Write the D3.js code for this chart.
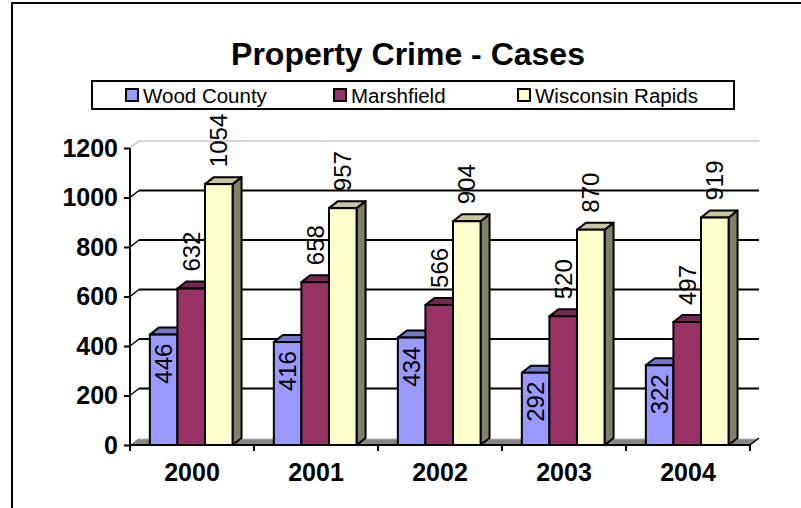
<!DOCTYPE html>
<html>
<head>
<meta charset="utf-8">
<script src="https://cdn.jsdelivr.net/npm/d3@7"></script>
<style>
  html, body { margin: 0; padding: 0; background: #fff; }
  svg { display: block; font-family: "Liberation Sans", Arial, sans-serif; }
</style>
</head>
<body>
<svg id="chart" width="801" height="508"></svg>
<script>
const years = ['2000', '2001', '2002', '2003', '2004']
const seriesNames = ['Wood County', 'Marshfield', 'Wisconsin Rapids']
const woodCounty = [446, 416, 434, 292, 322]
const marshfield = [632, 658, 566, 520, 497]
const wisconsinRapids = [1054, 957, 904, 870, 919]
const yTicks = [0, 200, 400, 600, 800, 1000, 1200]

const colors = ['#9999ff', '#993366', '#ffffcc']
const seriesValues = [woodCounty, marshfield, wisconsinRapids]

const width = 801
const height = 508
const margin = { top: 148, right: 51, bottom: 63, left: 130 }
// 3d depth offset of the back wall
const dx = 9
const dy = -7

const svg = d3.select('#chart')

svg.append('rect').attr('width', width).attr('height', height).attr('fill', '#fff')

// outer frame (only left and top edges fall inside the picture)
svg.append('path')
  .attr('d', `M12,${height} L12,3 L${width},3`)
  .attr('fill', 'none')
  .attr('stroke', '#000')
  .attr('stroke-width', 2)

// Title
svg.append('text')
  .attr('x', 408)
  .attr('y', 65)
  .attr('text-anchor', 'middle')
  .attr('font-weight', 'bold')
  .attr('font-size', 32)
  .text('Property Crime - Cases')

// Legend
const legend = svg.append('g')
legend.append('rect')
  .attr('x', 92).attr('y', 81)
  .attr('width', 642).attr('height', 28)
  .attr('fill', '#fff').attr('stroke', '#000').attr('stroke-width', 2)

const legendPos = [126, 334, 518]
seriesNames.forEach((name, i) => {
  const g = legend.append('g').attr('transform', `translate(${legendPos[i]}, 89)`)
  g.append('rect')
    .attr('width', 12).attr('height', 12)
    .attr('fill', colors[i]).attr('stroke', '#000').attr('stroke-width', 2)
  g.append('text')
    .attr('x', 17).attr('y', 13.5)
    .attr('font-size', 20.5)
    .text(name)
})

// Scales
const x = d3.scaleBand()
  .domain(years)
  .range([margin.left, width - margin.right])

const bw = x.bandwidth()
const xInner = d3.scaleBand()
  .domain(seriesNames)
  .range([bw * 0.16, bw * 0.827])

const y = d3.scaleLinear()
  .domain([0, 1200])
  .range([height - margin.bottom, margin.top])

const x0 = margin.left
const x1 = width - margin.right
const y0 = y(0)

// back wall gridlines and side wall diagonals
yTicks.filter(t => t > 0 && t < 1200).forEach(t => {
  svg.append('line')
    .attr('x1', x0 + dx).attr('x2', x1 + dx)
    .attr('y1', y(t) + dy).attr('y2', y(t) + dy)
    .attr('stroke', '#000').attr('stroke-width', 2)
  svg.append('line')
    .attr('x1', x0).attr('x2', x0 + dx)
    .attr('y1', y(t)).attr('y2', y(t) + dy)
    .attr('stroke', '#000').attr('stroke-width', 1.5)
})

// top edge of the walls
svg.append('path')
  .attr('d', `M${x0},${y(1200)} L${x0 + dx},${y(1200) + dy} L${x1 + dx},${y(1200) + dy}`)
  .attr('fill', 'none').attr('stroke', '#c8c8c8').attr('stroke-width', 1.5)

// floor
svg.append('path')
  .attr('d', `M${x0},${y0} L${x1},${y0} L${x1 + dx},${y0 + dy} L${x0 + dx},${y0 + dy} Z`)
  .attr('fill', '#858585')
svg.append('line')
  .attr('x1', x0 + dx).attr('x2', x1 + dx)
  .attr('y1', y0 + dy + 0.5).attr('y2', y0 + dy + 0.5)
  .attr('stroke', '#e0e0e0').attr('stroke-width', 1.5)

// bars
const shade = (c, k) => {
  const rgb = d3.rgb(c)
  return d3.rgb(rgb.r * k, rgb.g * k, rgb.b * k).formatHex()
}

years.forEach((yr, j) => {
  seriesNames.forEach((name, i) => {
    const v = seriesValues[i][j]
    const left = x(yr) + xInner(name)
    const right = left + xInner.bandwidth()
    const top = y(v)
    const g = svg.append('g')
    // side face
    g.append('path')
      .attr('d', `M${right},${y0} L${right},${top} L${right + dx},${top + dy} L${right + dx},${y0 + dy} Z`)
      .attr('fill', shade(colors[i], 0.5))
      .attr('stroke', '#000').attr('stroke-width', 2).attr('stroke-linejoin', 'round')
    // top face
    g.append('path')
      .attr('d', `M${left},${top} L${right},${top} L${right + dx},${top + dy} L${left + dx},${top + dy} Z`)
      .attr('fill', shade(colors[i], 0.78))
      .attr('stroke', '#000').attr('stroke-width', 2).attr('stroke-linejoin', 'round')
    // front face
    g.append('rect')
      .attr('x', left).attr('y', top)
      .attr('width', right - left).attr('height', y0 - top)
      .attr('fill', colors[i])
      .attr('stroke', '#000').attr('stroke-width', 2)
  })
})

// value labels (rotated)
years.forEach((yr, j) => {
  seriesNames.forEach((name, i) => {
    const v = seriesValues[i][j]
    const cx = x(yr) + xInner(name) + xInner.bandwidth() / 2
    const inside = i === 0
    const ly = inside ? y(v) + 9 : y(v) - 17
    svg.append('text')
      .attr('transform', `translate(${cx}, ${ly}) rotate(-90)`)
      .attr('text-anchor', inside ? 'end' : 'start')
      .attr('dy', '0.36em')
      .attr('font-size', 24)
      .text(v)
  })
})

// y axis
const yAxis = svg.append('g')
  .attr('transform', `translate(${x0}, 0)`)
  .call(d3.axisLeft(y).tickValues(yTicks).tickFormat(d3.format('d')).tickSize(6).tickPadding(6))
yAxis.select('.domain').attr('stroke', '#000').attr('stroke-width', 2)
  .attr('d', `M0,${y(1200)}V${y0}`)
yAxis.selectAll('.tick line').attr('stroke', '#000').attr('stroke-width', 2)
yAxis.selectAll('.tick text')
  .attr('font-size', 25)
  .attr('font-weight', 'bold')
  .attr('font-family', '"Liberation Sans", Arial, sans-serif')
  .attr('fill', '#000')

// x axis
const xAxis = svg.append('g')
  .attr('transform', `translate(0, ${y0})`)
  .call(d3.axisBottom(x).tickSize(0).tickPadding(0))
xAxis.select('.domain').attr('stroke', '#000').attr('stroke-width', 2)
  .attr('d', `M${x0},0H${x1}`)
xAxis.selectAll('.tick text')
  .attr('y', 36)
  .attr('dy', 0)
  .attr('font-size', 25)
  .attr('font-weight', 'bold')
  .attr('font-family', '"Liberation Sans", Arial, sans-serif')
  .attr('fill', '#000')
// category boundary ticks
xAxis.selectAll('.boundary')
  .data(years.map(d => x(d)).concat([x1]))
  .join('line')
  .attr('x1', d => d).attr('x2', d => d)
  .attr('y1', 0).attr('y2', 6)
  .attr('stroke', '#000').attr('stroke-width', 2)
// floor right edge
svg.append('line')
  .attr('x1', x1).attr('y1', y0)
  .attr('x2', x1 + dx).attr('y2', y0 + dy)
  .attr('stroke', '#000').attr('stroke-width', 1.5)
</script>
</body>
</html>
